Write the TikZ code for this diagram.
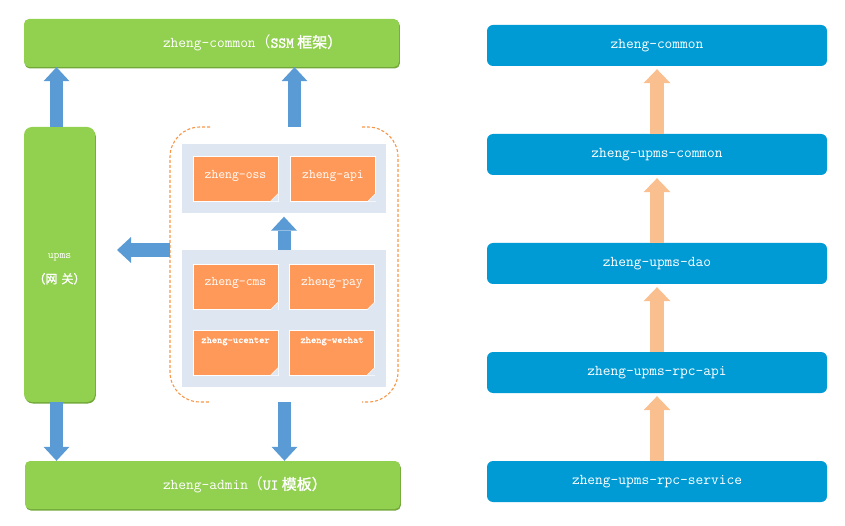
\documentclass[tikz,border=0pt]{standalone}
\usepackage{fontspec}
\newfontfamily\cjk{Noto Sans CJK SC}
\newfontfamily\cjkb{Noto Sans CJK SC}[FakeBold=1.5]
\newfontfamily\ttb{Latin Modern Mono}[FakeBold=1.5]
\usetikzlibrary{arrows.meta,shadows}
\definecolor{gfill}{HTML}{92D050}
\definecolor{gdark}{HTML}{72A83A}
\definecolor{ablue}{HTML}{5B9BD5}
\definecolor{rbox}{HTML}{009BD5}
\definecolor{oarrow}{HTML}{F9BF8F}
\definecolor{note}{HTML}{FF9959}
\definecolor{fold}{HTML}{FBC9A6}
\definecolor{panel}{HTML}{DEE6F2}
\definecolor{dash}{HTML}{F79646}
\newcommand{\lift}[2]{\raisebox{#1}[0pt][0pt]{#2}}
\begin{document}
\begin{tikzpicture}[x=1pt,y=-1pt,
  greenbox/.style={fill=gfill, rounded corners=5pt, inner sep=0pt, text=white, font=\ttfamily\fontsize{15}{17}\selectfont,
     general shadow={fill=gdark, shadow xshift=0.8pt, shadow yshift=-1.5pt}},
  bluebox/.style={fill=rbox, rounded corners=6pt, minimum width=340pt, minimum height=41pt, inner sep=0pt, text=white, font=\ttfamily\fontsize{15}{17}\selectfont},
  panelbox/.style={fill=panel, minimum width=204pt, inner sep=0pt},
  notebox/.style={fill=note, draw=white, line width=0.8pt, minimum width=85pt, minimum height=45pt, inner sep=0pt, text=white, font=\ttfamily\fontsize{13.3}{15}\selectfont},
  smallnote/.style={notebox, font=\ttb\fontsize{10}{12}\selectfont},
  bluearrow/.style={draw=ablue, line width=13pt, -{Triangle[width=26pt,length=14pt,fill=ablue,line width=0pt]}},
  orangearrow/.style={draw=oarrow, line width=14pt, -{Triangle[width=27pt,length=14pt,fill=oarrow,line width=0pt]}},
  dashline/.style={draw=dash, line width=1.1pt, dash pattern=on 3pt off 2pt, rounded corners=30pt}
]
\useasboundingbox (0,0) rectangle (845,526);

% green boxes
\node[greenbox, minimum width=375pt, minimum height=48pt] (common) at (211.5,43)
  {\makebox[375pt][l]{\hspace{139pt}zheng-common{\cjk （}{\ttb SSM}{\cjkb\ 框架）}}};
\node[greenbox, rounded corners=8pt, minimum width=71pt, minimum height=275pt, align=center] (upms) at (59.5,264.5)
  {\lift{-8pt}{\parbox{60pt}{\centering{\fontsize{11.4}{13}\selectfont upms}\\[8pt]{\cjkb\fontsize{12}{14}\selectfont （网\hspace{4pt}关）}}}};
\node[greenbox, minimum width=375pt, minimum height=48pt] (admin) at (212.5,485)
  {\makebox[375pt][l]{\hspace{138pt}zheng-admin{\cjk （}{\ttb UI}{\cjkb\ 模板）}}};

% dashed group
\coordinate (grp) at (284,264.5);
\coordinate (grpn) at (294.5,127);
\coordinate (grps) at (284.5,402);
\coordinate (grpw) at (170,250);
\draw[dashline] (210,127) -- (170,127) -- (170,402) -- (210,402);
\draw[dashline] (362,127) -- (398,127) -- (398,402) -- (362,402);

% panels
\node[panelbox, minimum height=69pt] (p1) at (284,179) {};
\node[panelbox, minimum height=137pt] (p2) at (284,318.5) {};

% notes
\node[notebox] (oss) at (235.5,178.5) {\lift{0pt}{zheng-oss}};
\node[notebox] (api) at (333,178.5) {\lift{0pt}{zheng-api}};
\node[notebox] (cms) at (235.5,287) {\lift{1pt}{zheng-cms}};
\node[notebox] (pay) at (332,287) {\lift{1pt}{zheng-pay}};
\node[smallnote] (ucenter) at (235.5,352.5) {\lift{9.5pt}{zheng-ucenter}};
\node[smallnote] (wechat) at (332,352.5) {\lift{9.5pt}{zheng-wechat}};
\foreach \n in {oss,api,cms,pay,ucenter,wechat}{
  \fill[panel] (\n.south east) -- ++(-8,0) -- ++(8,-8) -- cycle;
  \filldraw[fill=fold, draw=white, line width=0.6pt] ([xshift=-8pt]\n.south east) -- ([yshift=8pt]\n.south east) -- ([xshift=-5pt,yshift=3pt]\n.south east) -- cycle;
}

% blue arrows
\draw[bluearrow] ([xshift=-3pt]upms.north) -- ([xshift=-3pt]upms.north |- common.south);
\draw[bluearrow] (grpn) -- (grpn |- common.south);
\draw[bluearrow, shorten >=3pt] (p2.north) -- (p1.south);
\coordinate (lt) at (117,250);
\draw[bluearrow, line width=14pt] (grpw) -- (lt);
\draw[bluearrow] ([xshift=-3pt]upms.south) -- ([xshift=-3pt]upms.south |- admin.north);
\draw[bluearrow] (grps) -- (grps |- admin.north);

% right column
\node[bluebox] (r1) at (657,45.5) {zheng-common};
\node[bluebox] (r2) at (657,154.5) {zheng-upms-common};
\node[bluebox] (r3) at (657,263.5) {zheng-upms-dao};
\node[bluebox] (r4) at (657,372.5) {zheng-upms-rpc-api};
\node[bluebox] (r5) at (657,481.5) {zheng-upms-rpc-service};
\draw[orangearrow, shorten >=3pt] (r2.north) -- (r1.south);
\draw[orangearrow, shorten >=3pt] (r3.north) -- (r2.south);
\draw[orangearrow, shorten >=3pt] (r4.north) -- (r3.south);
\draw[orangearrow, shorten >=3pt] (r5.north) -- (r4.south);
\end{tikzpicture}
\end{document}
